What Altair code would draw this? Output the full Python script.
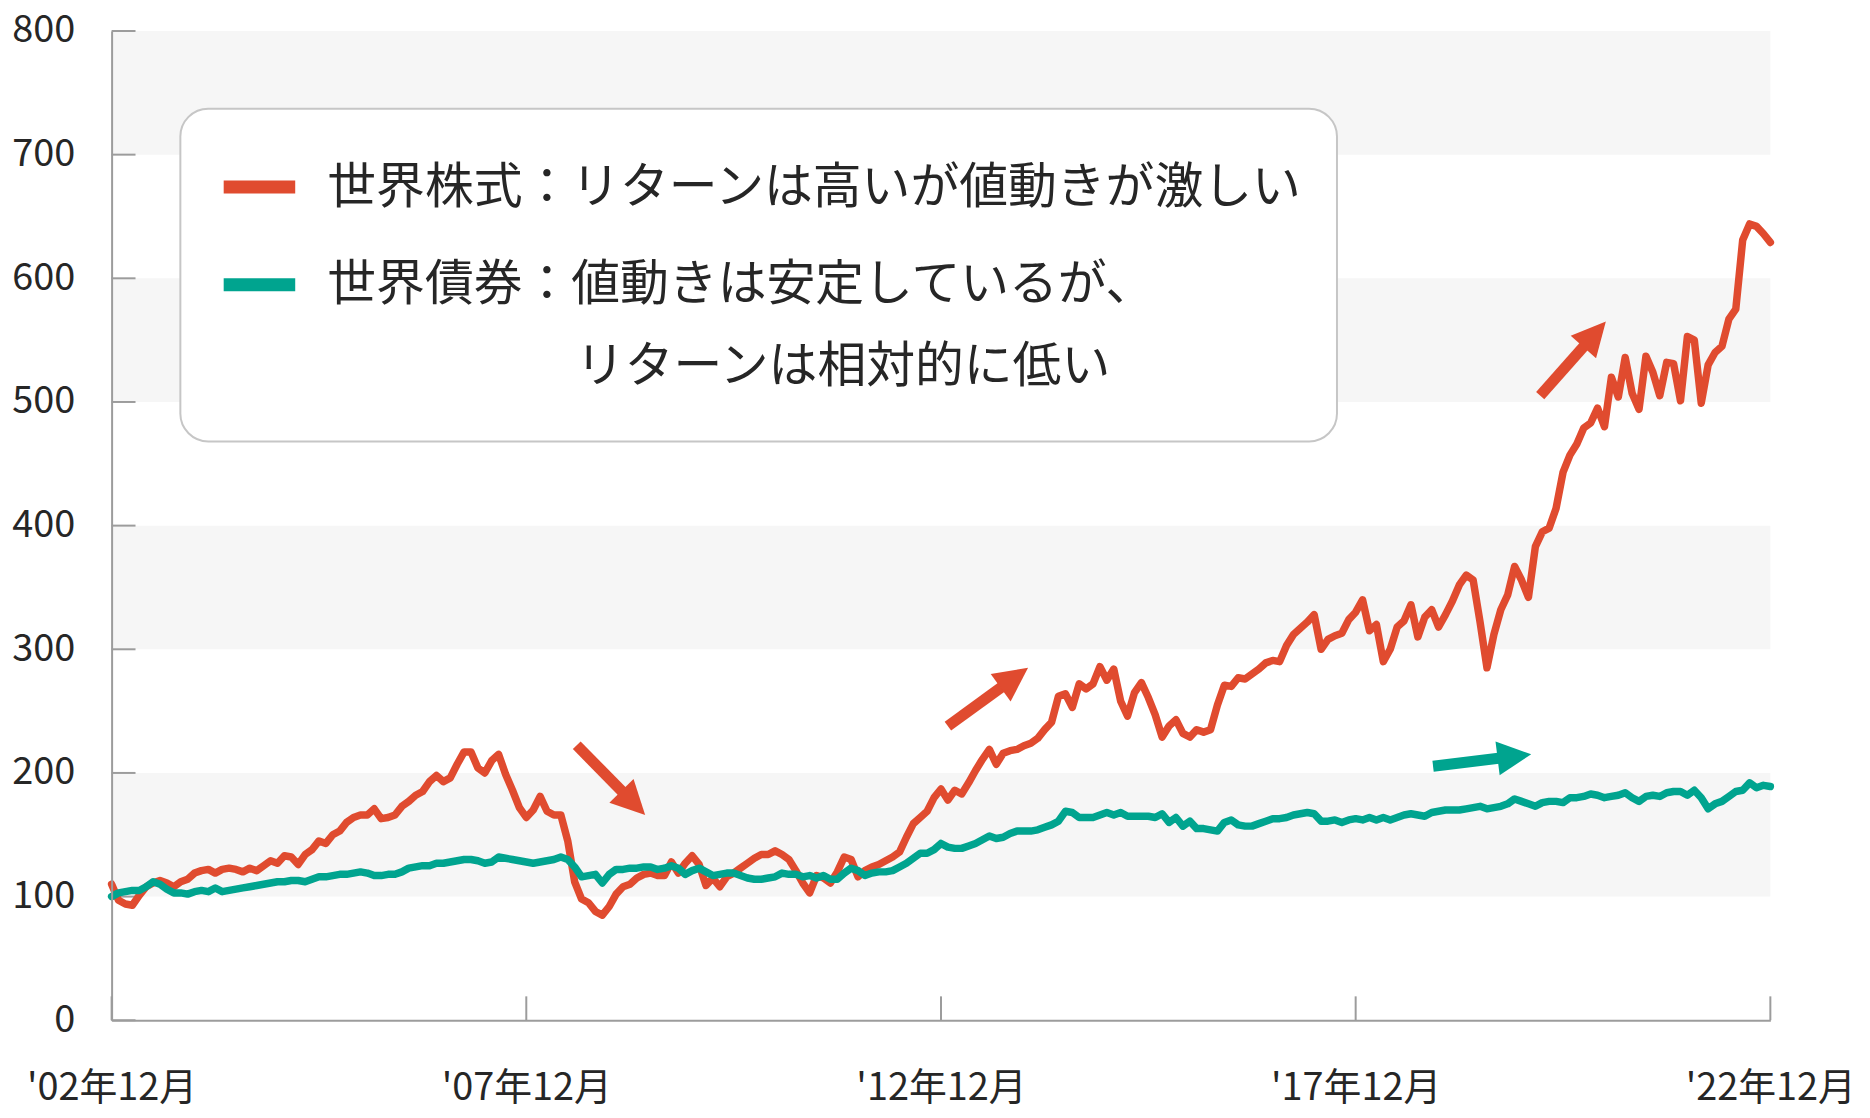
import json
import math
import altair as alt
import pandas as pd

# ---------------- data ----------------
months = pd.date_range("2002-12-01", "2022-12-01", freq="MS").strftime("%Y-%m").tolist()  # 241 months

stocks = [
    110, 97, 94, 93, 101, 108, 111, 113, 111, 108,
    112, 114, 119, 121, 122, 119, 122, 123, 122, 120,
    123, 121, 125, 129, 127, 133, 132, 126, 134, 138,
    145, 143, 150, 153, 160, 164, 166, 166, 171, 163,
    164, 166, 173, 177, 182, 185, 193, 198, 193, 196,
    207, 217, 217, 204, 200, 210, 215, 199, 186, 172,
    164, 170, 181, 169, 166, 166, 145, 112, 98, 95,
    88, 85, 92, 102, 108, 110, 115, 118, 119, 117,
    117, 128, 119, 127, 133, 126, 109, 115, 108, 116,
    119, 123, 127, 131, 134, 134, 137, 134, 130, 121,
    111, 103, 117, 115, 111, 120, 132, 130, 116, 121,
    124, 126, 129, 132, 136, 148, 159, 164, 169, 180,
    187, 178, 186, 183, 192, 202, 211, 219, 207, 216,
    218, 219, 222, 224, 228, 235, 241, 262, 264, 253,
    272, 268, 272, 286, 275, 284, 258, 246, 265, 273,
    261, 247, 229, 238, 243, 232, 229, 235, 233, 235,
    255, 271, 270, 277, 276, 280, 284, 289, 291, 290,
    303, 312, 317, 322, 328, 300, 308, 311, 313, 324,
    330, 340, 315, 320, 290, 300, 318, 323, 336, 310,
    326, 332, 318, 328, 339, 352, 360, 356, 322, 285,
    312, 332, 344, 367, 356, 342, 383, 395, 398, 414,
    443, 457, 466, 479, 483, 495, 480, 520, 504, 536,
    507, 494, 537, 524, 505, 532, 531, 501, 553, 550,
    499, 530, 540, 545, 567, 575, 631, 644, 642, 636,
    629,
]

bonds = [
    100, 103, 104, 105, 105, 108, 112, 110, 106, 103,
    103, 102, 104, 105, 104, 107, 104, 105, 106, 107,
    108, 109, 110, 111, 112, 112, 113, 113, 112, 114,
    116, 116, 117, 118, 118, 119, 120, 119, 117, 117,
    118, 118, 120, 123, 124, 125, 125, 127, 127, 128,
    129, 130, 130, 129, 127, 128, 132, 131, 130, 129,
    128, 127, 128, 129, 130, 132, 130, 124, 116, 117,
    118, 111, 118, 122, 122, 123, 123, 124, 124, 122,
    123, 125, 123, 118, 121, 123, 120, 117, 118, 119,
    119, 117, 115, 114, 114, 115, 116, 119, 118, 118,
    116, 117, 115, 117, 114, 114, 119, 123, 121, 117,
    119, 120, 120, 121, 124, 127, 131, 135, 135, 138,
    143, 140, 139, 139, 141, 143, 146, 149, 147, 148,
    151, 153, 153, 153, 154, 156, 158, 161, 169, 168,
    164, 164, 164, 166, 168, 166, 168, 165, 165, 165,
    165, 164, 167, 160, 164, 157, 161, 155, 155, 154,
    153, 160, 162, 158, 157, 157, 159, 161, 163, 163,
    164, 166, 167, 168, 167, 161, 161, 162, 160, 162,
    163, 162, 164, 162, 164, 162, 164, 166, 167, 166,
    165, 168, 169, 170, 170, 170, 171, 172, 173, 171,
    172, 173, 175, 179, 177, 175, 173, 176, 177, 177,
    176, 180, 180, 181, 183, 182, 180, 181, 182, 184,
    180, 177, 181, 182, 181, 184, 185, 185, 182, 186,
    180, 171, 175, 177, 181, 185, 186, 192, 188, 190,
    189,
]

series_names = ["世界株式", "世界債券"]
y_ticks = [0, 100, 200, 300, 400, 500, 600, 700, 800]
band_lo = [100, 300, 500, 700]
band_hi = [200, 400, 600, 800]
x_tick_months = [0, 60, 120, 180, 240]
x_tick_labels = ["'02年12月", "'07年12月", "'12年12月", "'17年12月", "'22年12月"]

legend_lines = [
    "世界株式：リターンは高いが値動きが激しい",
    "世界債券：値動きは安定しているが、",
    "リターンは相対的に低い",
]

# annotation arrows (tail -> tip, in month index / index value)
arrow_tail_m = [67.3, 121.0, 206.7, 191.2]
arrow_tail_v = [222.4, 237.9, 505.1, 205.4]
arrow_tip_m = [77.2, 132.6, 216.2, 205.4]
arrow_tip_v = [166.0, 285.0, 565.0, 215.1]

# ---------------- style ----------------
RED = "#E04B2F"
TEAL = "#00A48F"
AXIS_C = "#9c9c9c"
BAND_C = "#f6f6f6"
TEXT_C = "#262626"
FONT = "Noto Sans CJK JP"
arrow_colors = [RED, RED, RED, TEAL]

W, H = 1665, 993
N = len(months) - 1
YMAX = 800
TICK_LEN = 24

x_scale = alt.Scale(domain=[0, N], nice=False, zero=False)
y_scale = alt.Scale(domain=[0, YMAX], nice=False)

label_list = "[" + ",".join(json.dumps(s, ensure_ascii=False) for s in x_tick_labels) + "]"
x_axis = alt.Axis(
    values=x_tick_months, labelExpr=label_list + "[round(datum.value / 60)]",
    title=None, grid=False, ticks=False, tickSize=0, domain=True,
    domainColor=AXIS_C, domainWidth=2, labelFont=FONT, labelFontSize=38,
    labelColor=TEXT_C, labelPadding=50, labelFlush=False, labelOverlap=False,
    labelAngle=0, zindex=1,
)
y_axis = alt.Axis(
    values=y_ticks, format="d", title=None, grid=False, ticks=False, tickSize=0,
    domain=True, domainColor=AXIS_C, domainWidth=2, labelFont=FONT,
    labelFontSize=38, labelColor=TEXT_C, labelPadding=37, labelOverlap=False,
    zindex=1,
)

# ---------------- layers ----------------
bands = alt.Chart(pd.DataFrame({"lo": band_lo, "hi": band_hi})).mark_rect(color=BAND_C).encode(
    x=alt.value(0), x2=alt.value(W),
    y=alt.Y("lo:Q", scale=y_scale, axis=y_axis), y2="hi:Q",
)

yticks = alt.Chart(pd.DataFrame({"v": y_ticks})).mark_rule(color=AXIS_C, strokeWidth=2).encode(
    y=alt.Y("v:Q", scale=y_scale, axis=y_axis),
    x=alt.value(0), x2=alt.value(TICK_LEN),
)
xticks = alt.Chart(pd.DataFrame({"m": x_tick_months})).mark_rule(color=AXIS_C, strokeWidth=2).encode(
    x=alt.X("m:Q", scale=x_scale, axis=x_axis),
    y=alt.value(H), y2=alt.value(H - TICK_LEN),
)

idx = list(range(len(months)))
df_s = pd.DataFrame({"m": idx, "month": months, "value": stocks})
df_b = pd.DataFrame({"m": idx, "month": months, "value": bonds})


def series_line(df, color):
    return alt.Chart(df).mark_line(
        color=color, strokeWidth=7.5, strokeJoin="round", strokeCap="round"
    ).encode(
        x=alt.X("m:Q", scale=x_scale, axis=x_axis),
        y=alt.Y("value:Q", scale=y_scale, axis=y_axis),
    )


line_s = series_line(df_s, RED)
line_b = series_line(df_b, TEAL)

# arrows
px_m = W / N
px_v = H / YMAX
HEAD = 34
shaft_rows, head_rows = [], []
for tm, tv, pm, pv, c in zip(arrow_tail_m, arrow_tail_v, arrow_tip_m, arrow_tip_v, arrow_colors):
    dx = (pm - tm) * px_m
    dy = -(pv - tv) * px_v
    L = math.hypot(dx, dy)
    ux, uy = dx / L, dy / L
    base_m = pm - (HEAD - 3) * ux / px_m
    base_v = pv + (HEAD - 3) * uy / px_v
    cen_m = pm - (HEAD / 2) * ux / px_m
    cen_v = pv + (HEAD / 2) * uy / px_v
    ang = math.degrees(math.atan2(ux, -uy)) % 360
    shaft_rows.append({"m": tm, "v": tv, "m2": base_m, "v2": base_v, "c": c})
    head_rows.append({"m": cen_m, "v": cen_v, "a": ang, "c": c})

shafts = alt.Chart(pd.DataFrame(shaft_rows)).mark_rule(strokeWidth=11, strokeCap="butt").encode(
    x=alt.X("m:Q", scale=x_scale, axis=x_axis), x2="m2:Q",
    y=alt.Y("v:Q", scale=y_scale, axis=y_axis), y2="v2:Q",
    color=alt.Color("c:N", scale=None),
)
heads = alt.Chart(pd.DataFrame(head_rows)).mark_point(
    shape="M0,-1L1,1L-1,1Z", filled=True, size=HEAD * HEAD, opacity=1, strokeWidth=0
).encode(
    x=alt.X("m:Q", scale=x_scale, axis=x_axis),
    y=alt.Y("v:Q", scale=y_scale, axis=y_axis),
    angle=alt.Angle("a:Q", scale=None),
    color=alt.Color("c:N", scale=None),
)

# legend box
one = pd.DataFrame({"k": [0]})
legend_box = alt.Chart(one).mark_rect(
    fill="white", stroke="#c6c6c6", strokeWidth=2, cornerRadius=28
).encode(x=alt.value(69), x2=alt.value(1230), y=alt.value(78), y2=alt.value(412))

sw_red = alt.Chart(one).mark_rule(color=RED, strokeWidth=13, strokeCap="butt").encode(
    x=alt.value(112.5), x2=alt.value(184.3), y=alt.value(156.5))
sw_teal = alt.Chart(one).mark_rule(color=TEAL, strokeWidth=13, strokeCap="butt").encode(
    x=alt.value(112.5), x2=alt.value(184.3), y=alt.value(254.7))


def legend_text(txt, x, y):
    return alt.Chart(pd.DataFrame({"t": [txt]})).mark_text(
        font=FONT, fontSize=49, color=TEXT_C, align="left", baseline="middle"
    ).encode(text="t:N", x=alt.value(x), y=alt.value(y))


t1 = legend_text(legend_lines[0], 216.5, 157.7)
t2 = legend_text(legend_lines[1], 216.5, 255)
t3 = legend_text(legend_lines[2], 466, 337)

chart = alt.layer(
    bands, yticks, xticks, line_s, line_b, shafts, heads,
    legend_box, sw_red, sw_teal, t1, t2, t3,
).properties(
    width=W, height=H,
    autosize=alt.AutoSizeParams(type="none"),
    padding={"left": 104, "top": 21, "right": 92, "bottom": 88},
    background="white",
).configure_view(strokeWidth=0)

chart.save("out.html", embed_options={"renderer": "svg", "actions": False})
